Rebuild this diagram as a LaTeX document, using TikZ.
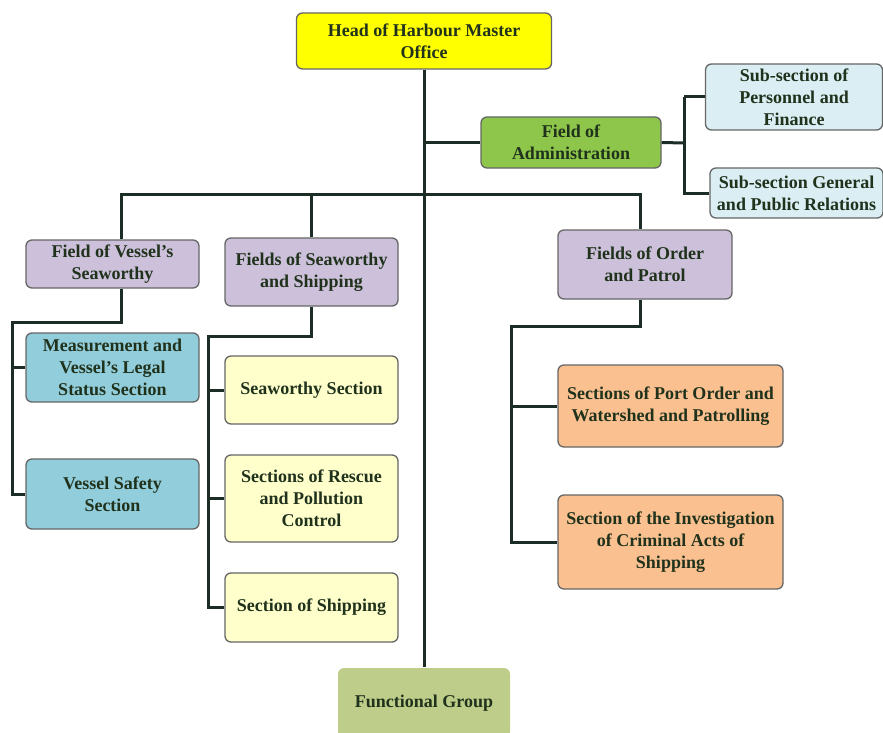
\documentclass[tikz,border=0pt]{standalone}
\usepackage{fontspec}
\setmainfont{Liberation Serif}
\definecolor{hmyellow}{RGB}{255,255,0}
\definecolor{hmgreen}{RGB}{141,198,74}
\definecolor{hmpale}{RGB}{218,238,243}
\definecolor{hmlilac}{RGB}{204,192,218}
\definecolor{hmblue}{RGB}{146,205,220}
\definecolor{hmcream}{RGB}{255,255,204}
\definecolor{hmpeach}{RGB}{250,192,144}
\definecolor{hmolive}{RGB}{190,206,138}
\definecolor{hmink}{RGB}{32,50,28}
\definecolor{hmline}{RGB}{28,45,38}
\usetikzlibrary{calc}

\begin{document}
\begin{tikzpicture}[x=1pt, y=-1pt,
    box/.style={rectangle, rounded corners=6pt, draw=black!60, line width=1.3pt,
                align=center, text=hmink, inner sep=2pt,
                font=\rmfamily\bfseries\fontsize{18}{22}\selectfont},
    headbox/.style={box, fill=hmyellow, minimum width=255pt, minimum height=56pt},
    adminbox/.style={box, fill=hmgreen, minimum width=180pt, minimum height=51pt},
    subbox/.style={box, fill=hmpale},
    fieldbox/.style={box, fill=hmlilac},
    vsecbox/.style={box, fill=hmblue, minimum width=173pt},
    ssecbox/.style={box, fill=hmcream, minimum width=173pt},
    psecbox/.style={box, fill=hmpeach, minimum width=225pt},
    funcbox/.style={box, fill=hmolive, draw=none, minimum width=172pt, minimum height=70pt},
    link/.style={draw=hmline, line width=3pt}
  ]
    \useasboundingbox (0,0) rectangle (883,733);

    % Head and administration
    \node[headbox]  (head)  at (424,41)    {Head of Harbour Master\\Office};
    \node[adminbox] (admin) at (571,142.5) {Field of\\Administration};
    \node[subbox, minimum width=177pt, minimum height=66pt] (subpf) at (794,97)    {Sub-section of\\Personnel and\\Finance};
    \node[subbox, minimum width=173pt, minimum height=50pt] (subgp) at (796.5,193) {Sub-section General\\and Public Relations};

    % Fields
    \node[fieldbox, minimum width=173pt, minimum height=48pt] (vessel)  at (112.5,264) {Field of Vessel's\\Seaworthy};
    \node[fieldbox, minimum width=173pt, minimum height=68pt] (seaship) at (311.5,272) {Fields of Seaworthy\\and Shipping};
    \node[fieldbox, minimum width=174pt, minimum height=69pt] (order)   at (645,264.5) {Fields of Order\\and Patrol};

    % Sections of vessel's seaworthy
    \node[vsecbox, minimum height=69pt] (measure) at (112.5,367.5) {Measurement and\\Vessel's Legal\\Status Section};
    \node[vsecbox, minimum height=70pt] (safety)  at (112.5,494)   {Vessel Safety\\Section};

    % Sections of seaworthy and shipping
    \node[ssecbox, minimum height=68pt] (seasec)  at (311.5,390)   {Seaworthy Section};
    \node[ssecbox, minimum height=87pt] (rescue)  at (311.5,498.5) {Sections of Rescue\\and Pollution\\Control};
    \node[ssecbox, minimum height=69pt] (shipsec) at (311.5,607.5) {Section of Shipping};

    % Sections of order and patrol
    \node[psecbox, minimum height=82pt] (port)   at (670.5,406) {Sections of Port Order and\\Watershed and Patrolling};
    \node[psecbox, minimum height=94pt] (invest) at (670.5,542) {Section of the Investigation\\of Criminal Acts of\\Shipping};

    \node[funcbox] (func) at (424,703) {Functional Group};

    % Connectors
    \coordinate (adminbus) at (684,143);
    \coordinate (fieldbus) at (424,194);
    \coordinate (vtop) at ([xshift=8.5pt]vessel.north);
    \coordinate (vbot) at ([xshift=8.5pt]vessel.south);
    \coordinate (otop) at ([xshift=-5pt]order.north);
    \coordinate (obot) at ([xshift=-5pt]order.south);
    \coordinate (vbus) at (12,322);
    \coordinate (sbus) at (208,336);
    \coordinate (obus) at (511,326);

    \draw[link] (head.south) -- (head.south |- func.north);
    \draw[link] (head.south |- admin.west) -- (admin.west);
    \draw[link] (admin.east) -- (adminbus);
    \draw[link] (adminbus |- subpf.west) -- (subpf.west);
    \draw[link] (adminbus |- subpf.west) -- (adminbus |- subgp.west) -- (subgp.west);

    \draw[link] (vtop) -- (vtop |- fieldbus) -- (otop |- fieldbus) -- (otop);
    \draw[link] (seaship.north) -- (seaship.north |- fieldbus);

    \draw[link] (vbot) -- (vbot |- vbus) -- (vbus) -- (vbus |- safety.west) -- (safety.west);
    \draw[link] (vbus |- measure.west) -- (measure.west);

    \draw[link] (seaship.south) -- (seaship.south |- sbus) -- (sbus) -- (sbus |- shipsec.west) -- (shipsec.west);
    \draw[link] (sbus |- seasec.west) -- (seasec.west);
    \draw[link] (sbus |- rescue.west) -- (rescue.west);

    \draw[link] (obot) -- (obot |- obus) -- (obus) -- (obus |- invest.west) -- (invest.west);
    \draw[link] (obus |- port.west) -- (port.west);
  \end{tikzpicture}
\end{document}
